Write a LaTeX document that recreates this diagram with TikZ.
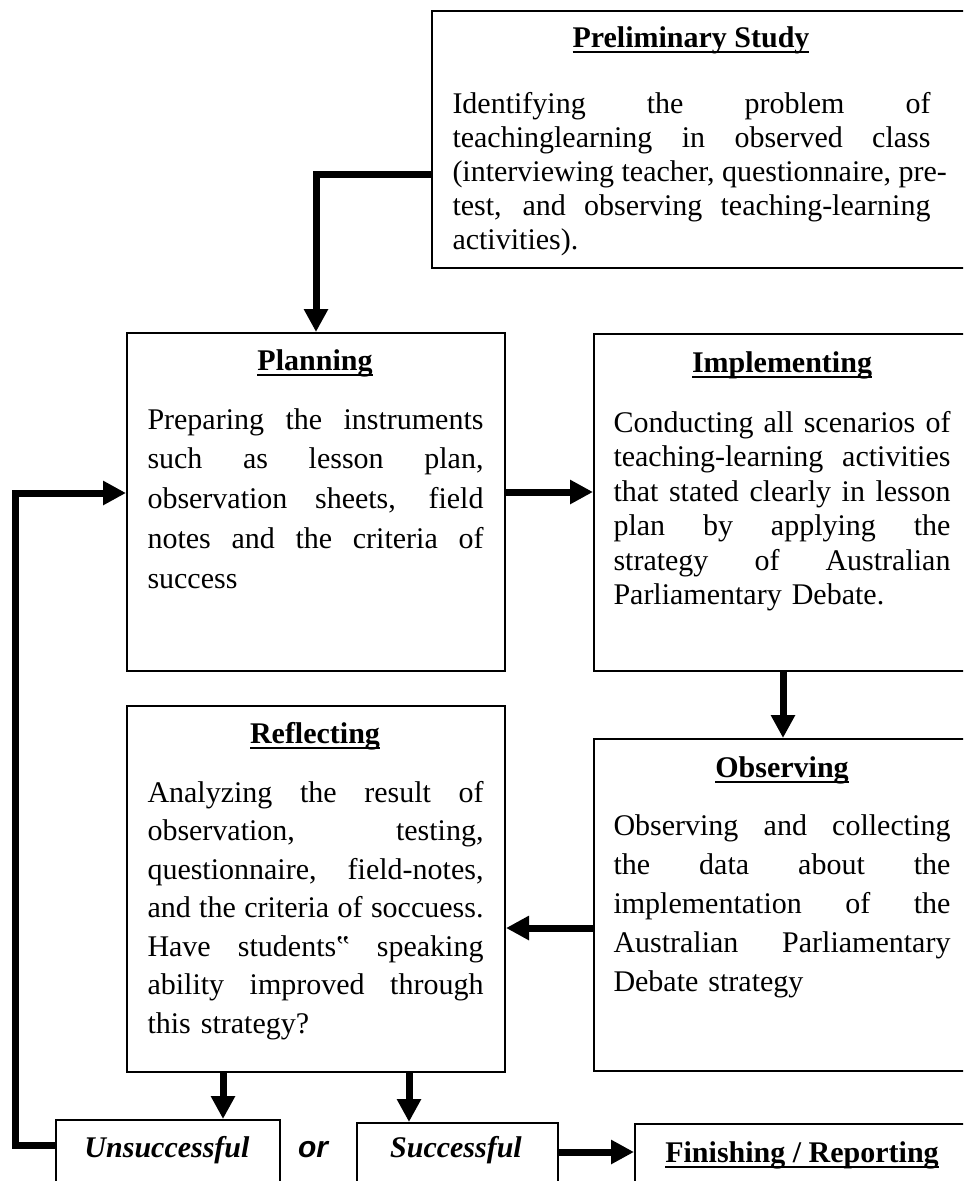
\documentclass[tikz,border=0pt]{standalone}
\usepackage{fontspec}
\setmainfont{Liberation Serif}
\newfontfamily\orfont{Liberation Sans}
\usetikzlibrary{arrows.meta}
\newcommand{\fl}[1]{\makebox[\linewidth][s]{\spaceskip=0.25em plus 1fil\relax #1}\\}
\newcommand{\ttl}[1]{\setbox0\hbox{\bfseries #1}\rlap{\rule[-2.4pt]{\wd0}{0.9pt}}\box0}
\tikzset{
  box/.style={draw,line width=0.8pt,inner sep=0pt,anchor=north west},
  body/.style={inner sep=0pt,anchor=base west,align=left,text width=#1},
  title/.style={inner sep=0pt,anchor=base,font=\fontsize{12pt}{14pt}\selectfont},
  flow/.style={line width=2.8pt,-{Triangle[length=9.2pt,width=9.2pt]}}
}
\begin{document}
\begin{tikzpicture}[x=0.4pt,y=-0.4pt]
      \useasboundingbox (0,0) rectangle (963,1181);
      \clip (0,0) rectangle (963,1181);
      \node[box,minimum width=217.6pt,minimum height=102.8pt] (prelim) at (431,10) {};
      \node[box,minimum width=151.2pt,minimum height=135.2pt] (plan) at (126,332) {};
      \node[box,minimum width=151.2pt,minimum height=134.8pt] (impl) at (593,333) {};
      \node[box,minimum width=151.2pt,minimum height=132.8pt] (obs) at (593,738) {};
      \node[box,minimum width=151.2pt,minimum height=146.4pt] (refl) at (126,705) {};
      \node[box,minimum width=89.6pt,minimum height=36pt] (unsucc) at (55,1119) {};
      \node[box,minimum width=80.4pt,minimum height=36pt] (succ) at (356,1122) {};
      \node[box,minimum width=134.4pt,minimum height=36pt] (finish) at (634,1123) {};
      \node[title] (prelim title) at (691,47) {\ttl{Preliminary Study}};
      \node[body=191.2pt,font=\fontsize{12pt}{13.6pt}\selectfont] (prelim text) at (452,113) {%
        \fl{Identifying the problem of}
        \fl{teachinglearning in observed class}
        \fl{(interviewing teacher, questionnaire, pre-}
        \fl{test, and observing teaching-learning}
        activities).};
      \node[title] (plan title) at (315,370) {\ttl{Planning}};
      \node[body=134.4pt,font=\fontsize{12pt}{15.9pt}\selectfont] (plan text) at (147,429) {%
        \fl{Preparing the instruments}
        \fl{such as lesson plan,}
        \fl{observation sheets, field}
        \fl{notes and the criteria of}
        success};
      \node[title] (impl title) at (782,372) {\ttl{Implementing}};
      \node[body=134.8pt,font=\fontsize{12pt}{13.8pt}\selectfont] (impl text) at (613,432) {%
        \fl{Conducting all scenarios of}
        \fl{teaching-learning activities}
        \fl{that stated clearly in lesson}
        \fl{plan by applying the}
        \fl{strategy of Australian}
        Parliamentary Debate.};
      \node[title] (obs title) at (782,777) {\ttl{Observing}};
      \node[body=134.8pt,font=\fontsize{12pt}{15.6pt}\selectfont] (obs text) at (613,835) {%
        \fl{Observing and collecting}
        \fl{the data about the}
        \fl{implementation of the}
        \fl{Australian Parliamentary}
        Debate strategy};
      \node[title] (refl title) at (315,743) {\ttl{Reflecting}};
      \node[body=134.4pt,font=\fontsize{12pt}{15.4pt}\selectfont] (refl text) at (147,802) {%
        \fl{Analyzing the result of}
        \fl{observation, testing,}
        \fl{questionnaire, field-notes,}
        \fl{and the criteria of soccuess.}
        \fl{Have students‟ speaking}
        \fl{ability improved through}
        this strategy?};
      \node[title] (unsucc label) at (167,1157) {\textbf{\textit{Unsuccessful}}};
      \node[title] (or label) at (313,1157) {\orfont\bfseries\itshape or};
      \node[title] (succ label) at (456,1157) {\textbf{\textit{Successful}}};
      \node[title] (finish label) at (802,1162) {\ttl{Finishing / Reporting}};
      \coordinate (loop) at (15,800);
      \coordinate (u in) at ([xshift=22pt]unsucc.north);
      \coordinate (s in) at ([xshift=-19.4pt]succ.north);
      \draw[flow] ([yshift=-13.8pt]prelim.west) -| (plan.north);
      \draw[flow] ([yshift=4pt]plan.east) -- ([yshift=4pt]plan.east -| impl.west);
      \draw[flow] (impl.south) -- (obs.north);
      \draw[flow] ([yshift=-9.2pt]obs.west) -- ([yshift=-9.2pt]obs.west -| refl.east);
      \draw[flow] (u in |- refl.south) -- (u in);
      \draw[flow] (s in |- refl.south) -- (s in);
      \draw[flow] ([yshift=6.4pt]succ.east) -- ([yshift=6.4pt]succ.east -| finish.west);
      \draw[flow] ([yshift=8pt]unsucc.west) -| (loop) |- ([yshift=3.6pt]plan.west);
    \end{tikzpicture}
\end{document}
